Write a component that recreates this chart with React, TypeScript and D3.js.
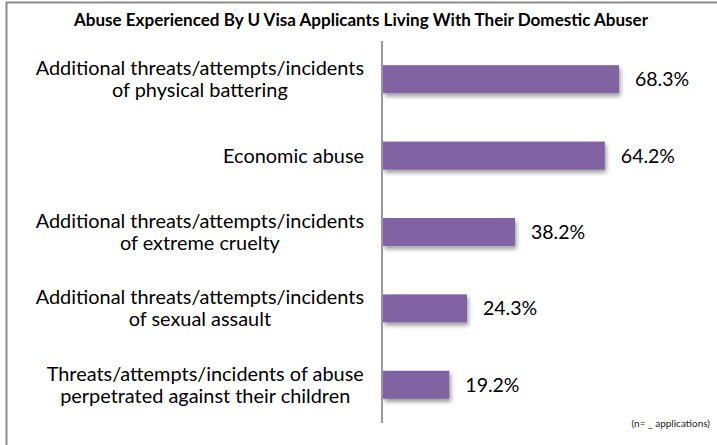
import React from "react";
import * as d3 from "d3";

const categories: string[][] = [
  ["Additional threats/attempts/incidents", "of physical battering"],
  ["Economic abuse"],
  ["Additional threats/attempts/incidents", "of extreme cruelty"],
  ["Additional threats/attempts/incidents", "of sexual assault"],
  ["Threats/attempts/incidents of abuse", "perpetrated against their children"],
];
const values: number[] = [68.3, 64.2, 38.2, 24.3, 19.2];
const valueLabels: string[] = ["68.3%", "64.2%", "38.2%", "24.3%", "19.2%"];
const title = "Abuse Experienced By U Visa Applicants Living With Their Domestic Abuser";
const footnote = "(n= _ applications)";

const W = 717;
const H = 445;
const FONT = "Lato, 'Open Sans', sans-serif";

let ctx: CanvasRenderingContext2D | null = null;
function measure(t: string, font: string): number {
  if (!ctx) ctx = document.createElement("canvas").getContext("2d");
  if (!ctx) return t.length * 8;
  ctx.font = font;
  return ctx.measureText(t).width;
}

export default function App() {
  const axisX = 383;
  const x = d3.scaleLinear().domain([0, 68.3]).range([axisX, 619]);
  const idx = categories.map((_, i) => String(i));
  const y = d3.scaleBand<string>().domain(idx).range([41, 423]).paddingInner(0.633).paddingOuter(0.3165);
  const labelSize = 19.9;
  const lineH = 22;
  const labelRight = 364;
  const titleSize = Math.min(18, (14 * 578) / measure(title, `bold 14px ${FONT}`));

  return (
    <svg width={W} height={H} style={{ position: "absolute", left: 0, top: 0, background: "#fff" }}>
      <defs>
        <filter id="sh" x="-10%" y="-30%" width="130%" height="190%">
          <feDropShadow dx="1.5" dy="3" stdDeviation="2" floodColor="#000" floodOpacity="0.4" />
        </filter>
      </defs>
      <rect x={0} y={0} width={W} height={H} fill="#fff" />
      <rect x={6.5} y={2.5} width={W + 20} height={H + 20} fill="none" stroke="#8c8c8c" strokeWidth={2} />
      <text x={361} y={26} textAnchor="middle" fontFamily={FONT} fontWeight="bold" fontSize={titleSize} fill="#000">
        {title}
      </text>
      {values.map((v, i) => {
        const yy = y(String(i))!;
        return (
          <g key={i}>
            <rect x={x(0)} y={yy} width={x(v) - x(0)} height={y.bandwidth()} fill="#8064A2" filter="url(#sh)" />
            <text x={x(v) + 16} y={yy + y.bandwidth() / 2 + 7} fontFamily={FONT} fontSize={19.5} fill="#000">
              {valueLabels[i]}
            </text>
          </g>
        );
      })}
      <line x1={axisX - 1} x2={axisX - 1} y1={41} y2={423} stroke="#999" strokeWidth={2} />
      {categories.map((lines, i) => {
        const cy = y(String(i))! + y.bandwidth() / 2;
        const maxW = Math.max(...lines.map((l) => measure(l, `${labelSize}px ${FONT}`)));
        const cx = labelRight - maxW / 2;
        const first = cy - ((lines.length - 1) * lineH) / 2 + 7;
        return (
          <text key={i} textAnchor="middle" fontFamily={FONT} fontSize={labelSize} fill="#000">
            {lines.map((l, j) => (
              <tspan key={j} x={cx} y={first + j * lineH}>
                {l}
              </tspan>
            ))}
          </text>
        );
      })}
      <text x={710} y={427} textAnchor="end" fontFamily={FONT} fontSize={10} fill="#222">
        {footnote}
      </text>
    </svg>
  );
}
